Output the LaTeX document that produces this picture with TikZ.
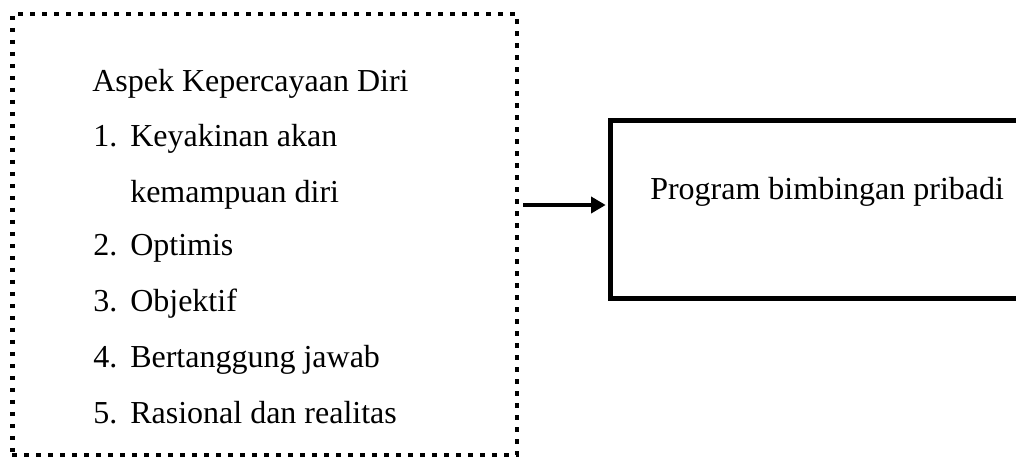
\documentclass[tikz,border=0pt]{standalone}
\usepackage{fontspec}
\setmainfont{Liberation Serif}
\usetikzlibrary{arrows.meta}
\begin{document}
\begin{tikzpicture}[x=0.75pt,y=-0.75pt,
  dotbox/.style={draw, line width=3.4pt, dash pattern=on 3.4pt off 5.6pt, inner sep=0pt,
    minimum width=378.4pt, minimum height=330.75pt},
  thickbox/.style={draw, line width=3.75pt, inner sep=0pt,
    minimum width=322pt, minimum height=133.5pt},
  txt/.style={anchor=base west, inner sep=0pt, font=\fontsize{24}{28}\selectfont},
  arr/.style={line width=3pt, -{Triangle[length=11pt,width=12pt]}}]
\useasboundingbox (0,0) rectangle (1016,457);
\begin{scope}
\clip (0,0) rectangle (1016,457);
\node[dotbox] (A) at (264.75,234.5) {};
\node[thickbox] (B) at (825,209.5) {};
\end{scope}
\node[txt] (t0) at (92,91) {Aspek Kepercayaan Diri};
\node[txt] (n1) at (93,146) {1.};
\node[txt] (t1) at (130,146) {Keyakinan akan};
\node[txt] (t1b) at (130,202) {kemampuan diri};
\node[txt] (n2) at (93,255) {2.};
\node[txt] (t2) at (130,255) {Optimis};
\node[txt] (n3) at (93,311) {3.};
\node[txt] (t3) at (130,311) {Objektif};
\node[txt] (n4) at (93,367) {4.};
\node[txt] (t4) at (130,367) {Bertanggung jawab};
\node[txt] (n5) at (93,423) {5.};
\node[txt] (t5) at (130,423) {Rasional dan realitas};
\node[txt] (Bt) at (650,199) {Program bimbingan pribadi};
\draw[arr, shorten <=3pt, shorten >=1.6pt] (A.east |- 0,205) -- (B.west |- 0,205);
\end{tikzpicture}
\end{document}
